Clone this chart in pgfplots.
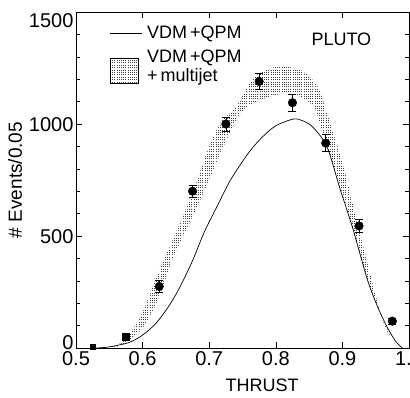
\documentclass[border=0pt]{standalone}
\usepackage{pgfplots}
\pgfplotsset{compat=1.18}
\usepgfplotslibrary{fillbetween}
\usetikzlibrary{patterns}
\usepackage{fontspec}
\setmainfont{Liberation Sans}
\pgfdeclarepatternformonly{fdots}{\pgfqpoint{-0.5pt}{-0.5pt}}{\pgfqpoint{2.5pt}{2.5pt}}{\pgfqpoint{2.2pt}{2.4pt}}{\pgfpathrectangle{\pgfqpoint{0pt}{0pt}}{\pgfqpoint{1pt}{1pt}}\pgfusepath{fill}}
\begin{document}
\begin{tikzpicture}[x=1pt,y=1pt]
\begin{axis}[name=ax,
  scale only axis, width=333pt, height=336pt,
  xmin=0.5, xmax=1.0, ymin=0, ymax=1500,
  xtick={0.5,0.6,0.7,0.8,0.9,1.0},
  xticklabels={0.5,0.6,0.7,0.8,0.9,1.0},
  ytick={0,500,1000,1500},
  yticklabels={\raisebox{-1pt}[0pt][0pt]{0},\raisebox{-7pt}[0pt][0pt]{500},\raisebox{-7pt}[0pt][0pt]{1000},\raisebox{-15.5pt}[0pt][0pt]{1500}},
  minor y tick num=4,
  tick align=inside,
  major tick length=6pt, minor tick length=4pt,
  axis line style={line width=0.8pt},
  every tick/.style={black, line width=0.6pt},
  /pgf/number format/assume math mode=true,
  tick label style={font=\fontsize{20}{20}\selectfont},
  yticklabel style={xshift=1pt},
  ylabel={\# Events/0.05},
  xlabel={THRUST},
  every axis y label/.style={at={(axis description cs:-0.183,0.5)}, rotate=90, anchor=center, font=\fontsize{19}{19}\selectfont},
  every axis x label/.style={at={(axis description cs:0.559,-0.11)}, anchor=center, font=\fontsize{18}{18}\selectfont},
  legend style={at={(axis description cs:0.1,0.965)}, anchor=north west, draw=none, fill=none,
    font=\fontsize{18}{19}\selectfont, inner sep=0pt, row sep=6pt, column sep=3pt,
    cells={anchor=west, align=left}},
]
\addlegendimage{legend image code/.code={\draw[black, line width=0.6pt] (-2pt,0pt) -- (30pt,0pt);}}
\addlegendentry{VDM\,+QPM}
\addlegendimage{legend image code/.code={\fill[pattern=fdots, pattern color=black!75] (-2pt,-17pt) rectangle (26pt,8pt);}}
\addlegendentry{VDM\,+QPM\\+\,multijet}

% band
\addplot[draw=none, name path=upper, smooth, tension=0.5, forget plot] coordinates {
(0.540,0) (0.560,12) (0.576,45) (0.600,160) (0.621,317) (0.650,515) (0.676,700)
(0.700,900) (0.718,1010) (0.740,1075) (0.766,1205) (0.790,1245) (0.811,1258)
(0.837,1240) (0.855,1200) (0.867,1140) (0.887,955) (0.907,750) (0.922,560)
(0.947,272) (0.962,112) (0.975,35) (0.985,0)};
\addplot[draw=none, name path=lower, smooth, tension=0.5, forget plot] coordinates {
(0.540,0) (0.570,15) (0.601,94) (0.625,230) (0.646,406) (0.682,630)
(0.721,897) (0.747,1049) (0.777,1107) (0.822,1138) (0.857,1076)
(0.872,942) (0.892,763) (0.912,571) (0.935,330) (0.955,170) (0.975,35) (0.985,0)};
\addplot[pattern=fdots, pattern color=black!75, draw=none, forget plot] fill between[of=upper and lower];

% VDM + QPM
\addplot[black, line width=0.7pt, smooth, tension=0.5, forget plot] coordinates {
(0.530,0) (0.550,5) (0.580,25) (0.600,58) (0.620,110) (0.640,190) (0.656,272)
(0.675,390) (0.693,520) (0.714,645) (0.732,750) (0.760,875) (0.781,945)
(0.800,992) (0.826,1022) (0.840,1015) (0.856,985) (0.877,897) (0.897,705)
(0.915,540) (0.937,310) (0.952,190) (0.967,94) (0.980,30) (0.990,0)};

% data
\addplot[only marks, mark=square*, mark size=2.5pt, black, forget plot] coordinates {(0.525,5)};
\addplot[only marks, mark=square*, mark size=3.5pt, black, forget plot] coordinates {(0.575,50)};
\addplot[only marks, mark=*, mark size=4.3pt, black, forget plot,
  error bars/.cd, y dir=both, y explicit, error mark options={rotate=90, mark size=4pt, line width=0.6pt},
  error bar style={line width=0.6pt}]
  coordinates {
(0.625,275) +- (0,28)
(0.675,700) +- (0,28)
(0.725,1000) +- (0,32)
(0.775,1190) +- (0,35)
(0.825,1095) +- (0,38)
(0.875,915) +- (0,38)
(0.925,545) +- (0,30)
(0.975,120) +- (0,12)
};
\node[font=\fontsize{18}{18}\selectfont, anchor=center] at (axis cs:0.8985,1380) {PLUTO};
\end{axis}
\pgfresetboundingbox
\path[use as bounding box] ([shift={(-76pt,-49pt)}]ax.south west) rectangle ([shift={(1pt,12pt)}]ax.north east);
\end{tikzpicture}
\end{document}
